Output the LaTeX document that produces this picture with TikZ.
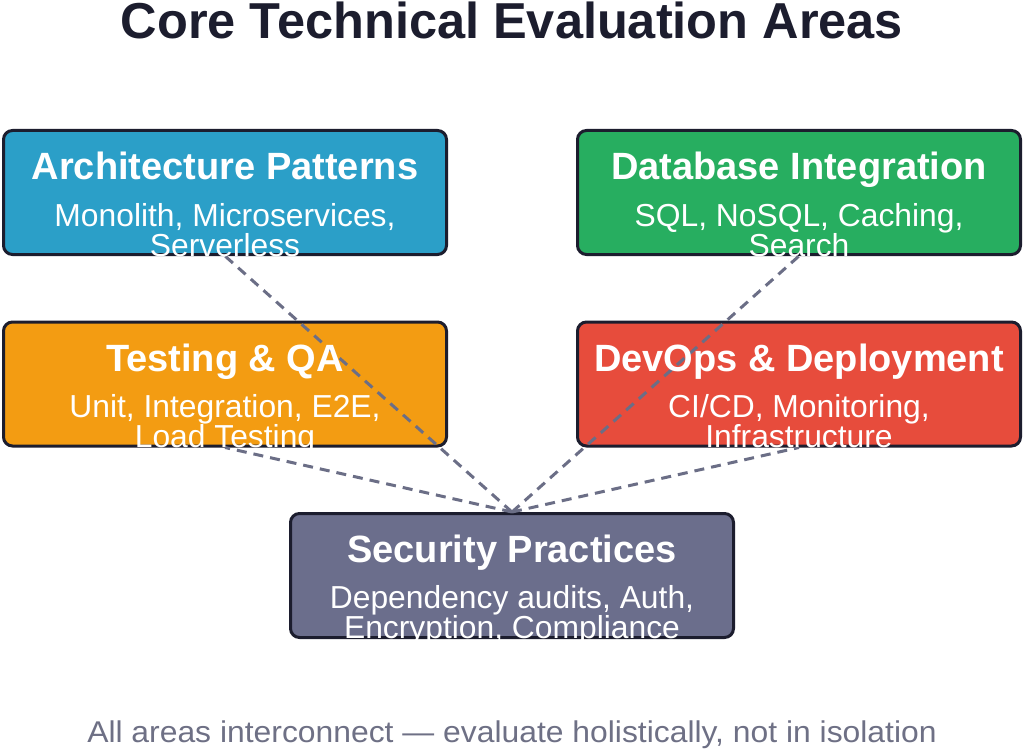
\documentclass[tikz,border=0pt]{standalone}
\usepackage{fontspec}
\setmainfont{Liberation Sans}
\usetikzlibrary{positioning}

\definecolor{ink}{HTML}{1C1D2E}
\definecolor{archblue}{HTML}{2B9FC8}
\definecolor{dbgreen}{HTML}{27AE60}
\definecolor{testorange}{HTML}{F39C12}
\definecolor{opsred}{HTML}{E74C3C}
\definecolor{secslate}{HTML}{6B6E8C}
\definecolor{linkgray}{HTML}{6B6E86}
\definecolor{notegray}{HTML}{6E7085}

\tikzset{
  area/.style={rectangle, draw=ink, line width=3pt, rounded corners=9pt,
    minimum width=443pt, minimum height=124pt, inner sep=0pt},
  areahead/.style={anchor=base, text=white, inner sep=0pt,
    font=\fontsize{38}{38}\selectfont\bfseries},
  areadesc/.style={anchor=base, text=white, inner sep=0pt,
    font=\fontsize{31.8}{31.8}\selectfont},
  link/.style={draw=linkgray, line width=3pt, dash pattern=on 10pt off 7pt},
}

\begin{document}
\begin{tikzpicture}[x=1pt,y=-1pt]
    \useasboundingbox[fill=white] (0,0) rectangle (1024,751);
    \node (title) at (512,38.5) [anchor=base,text=ink,inner sep=0pt,font=\fontsize{50.5}{50.5}\selectfont\bfseries] {Core Technical Evaluation Areas};
    % the five areas
    \node (arch) at (225,192.5) [area,fill=archblue] {};
    \node (db) at (799,192.5) [area,fill=dbgreen] {};
    \node (test) at (225,384) [area,fill=testorange] {};
    \node (ops) at (799,384) [area,fill=opsred] {};
    \node (sec) at (512,575.5) [area,fill=secslate] {};
    % links to security
    \draw[link] (sec.north) -- (arch.south);
    \draw[link] (sec.north) -- (db.south);
    \draw[link] (sec.north) -- (test.south);
    \draw[link] (sec.north) -- (ops.south);
    % texts
    \node (archhead) at (225,180) [areahead] {Architecture Patterns};
    \node (archdesc1) at (225,226) [areadesc] {Monolith, Microservices,};
    \node (archdesc2) at (225,256) [areadesc] {Serverless};
    \node (dbhead) at (799,180) [areahead] {Database Integration};
    \node (dbdesc1) at (799,226) [areadesc] {SQL, NoSQL, Caching,};
    \node (dbdesc2) at (799,256) [areadesc] {Search};
    \node (testhead) at (225,371) [areahead] {Testing \& QA};
    \node (testdesc1) at (225,417) [areadesc] {Unit, Integration, E2E,};
    \node (testdesc2) at (225,447) [areadesc] {Load Testing};
    \node (opshead) at (799,371) [areahead] {DevOps \& Deployment};
    \node (opsdesc1) at (799,417) [areadesc] {CI/CD, Monitoring,};
    \node (opsdesc2) at (799,447) [areadesc] {Infrastructure};
    \node (sechead) at (512,562) [areahead] {Security Practices};
    \node (secdesc1) at (512,608) [areadesc] {Dependency audits, Auth,};
    \node (secdesc2) at (512,638) [areadesc] {Encryption, Compliance};
    \node (note) at (512,742) [anchor=base,text=notegray,inner sep=0pt,xscale=1.062,font=\fontsize{30}{30}\selectfont] {All areas interconnect — evaluate holistically, not in isolation};
\end{tikzpicture}
\end{document}
